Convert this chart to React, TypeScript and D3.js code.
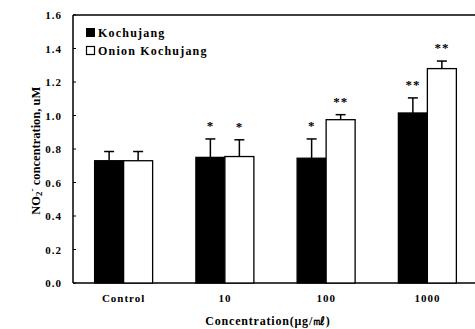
import React from 'react';
import { scaleBand, scaleLinear } from 'd3';

const categories = ['Control', '10', '100', '1000'];
const kochujang = [0.73, 0.75, 0.745, 1.015];
const kochujangErr = [0.055, 0.11, 0.115, 0.09];
const onion = [0.73, 0.755, 0.975, 1.28];
const onionErr = [0.055, 0.10, 0.03, 0.045];
const kochujangStars = ['', '*', '*', '**'];
const onionStars = ['', '*', '**', '**'];
const yTicks = [0, 0.2, 0.4, 0.6, 0.8, 1.0, 1.2, 1.4, 1.6];

const W = 475;
const H = 329;
const margin = { left: 73, top: 15, right: -3, bottom: 46 };

const App = () => {
  const x = scaleBand().domain(categories).range([margin.left, W - margin.right]);
  const y = scaleLinear().domain([0, 1.6]).range([H - margin.bottom, margin.top]);
  const bw = 29;
  const font = '"Liberation Serif", "Times New Roman", serif';

  const bar = (cat: string, v: number, e: number, s: string, fill: string, dx: number) => {
    const cx = (x(cat) as number) + x.bandwidth() / 2;
    const bx = cx + dx;
    const mid = bx + bw / 2;
    return (
      <g key={cat + fill}>
        <rect x={bx} y={y(v)} width={bw} height={y(0) - y(v)} fill={fill} stroke="#000" strokeWidth={1.3} />
        <line x1={mid} x2={mid} y1={y(v)} y2={y(v + e)} stroke="#000" strokeWidth={1.5} />
        <line x1={mid - 5} x2={mid + 5} y1={y(v + e)} y2={y(v + e)} stroke="#000" strokeWidth={1.5} />
        {s && (
          <text x={mid} y={y(v + e) - 9} textAnchor="middle" fontSize={13} fontWeight="bold" letterSpacing={1} fill="#000">{s}</text>
        )}
      </g>
    );
  };

  return (
    <svg width={W} height={H} style={{ position: 'absolute', left: 0, top: 0, background: '#fff' }} fontFamily={font}>
      <rect width={W} height={H} fill="#fff" />
      <line x1={margin.left} x2={W} y1={y(1.6)} y2={y(1.6)} stroke="#000" strokeWidth={1.5} />
      <line x1={margin.left} x2={margin.left} y1={y(1.6)} y2={y(0)} stroke="#000" strokeWidth={1.5} />
      <line x1={margin.left} x2={W} y1={y(0)} y2={y(0)} stroke="#000" strokeWidth={1.5} />
      {yTicks.map(t => (
        <g key={t}>
          <line x1={margin.left} x2={margin.left + 3} y1={y(t)} y2={y(t)} stroke="#000" />
          <text x={margin.left - 11} y={y(t) + 4} textAnchor="end" fontSize={11} fontWeight="bold" letterSpacing={1}>{t.toFixed(1)}</text>
        </g>
      ))}
      {categories.map((c, i) => bar(c, kochujang[i], kochujangErr[i], kochujangStars[i], '#000', -bw))}
      {categories.map((c, i) => bar(c, onion[i], onionErr[i], onionStars[i], '#fff', 0))}
      {categories.map(c => (
        <text key={c} x={(x(c) as number) + x.bandwidth() / 2} y={302} textAnchor="middle" fontSize={11} fontWeight="bold" letterSpacing={1}>{c}</text>
      ))}
      <text x={268} y={325} textAnchor="middle" fontSize={12} fontWeight="bold" letterSpacing={0.8}>Concentration(μg/㎖)</text>
      <text transform={`translate(40,${y(0.79)}) rotate(-90)`} textAnchor="middle" fontSize={12.5} fontWeight="bold">
        NO<tspan fontSize={9} dy={2}>2</tspan><tspan fontSize={9} dy={-7}>-</tspan><tspan dy={5}> concentration, uM</tspan>
      </text>
      <rect x={86} y={28} width={9} height={9} fill="#000" />
      <text x={98} y={36.5} fontSize={12} fontWeight="bold" letterSpacing={1.2}>Kochujang</text>
      <rect x={86.5} y={46.5} width={8} height={8} fill="#fff" stroke="#000" strokeWidth={1.2} />
      <text x={98} y={54.5} fontSize={12} fontWeight="bold" letterSpacing={1.2}>Onion Kochujang</text>
    </svg>
  );
};

export default App;
